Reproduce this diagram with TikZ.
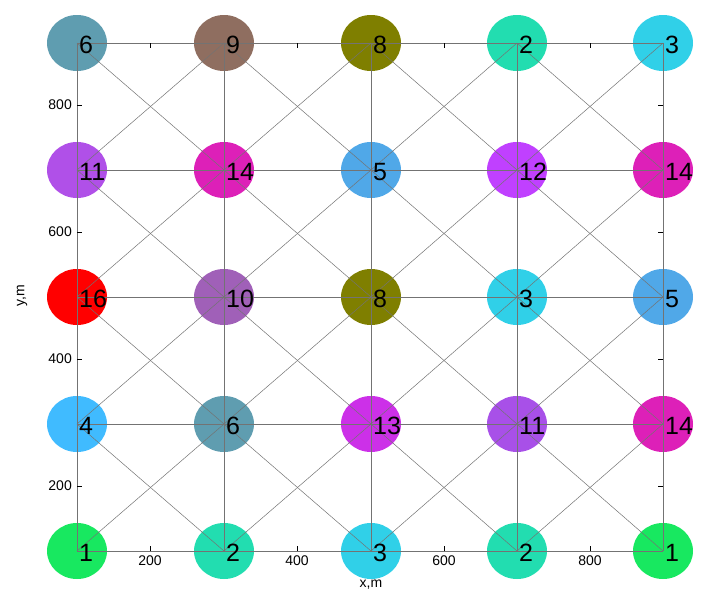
\documentclass[tikz,border=0pt]{standalone}
\usepackage{fontspec}
\setmainfont{Liberation Sans}
\usetikzlibrary{shapes.geometric}
\definecolor{cA}{HTML}{5F9DB0}
\definecolor{cB}{HTML}{8F6E60}
\definecolor{cC}{HTML}{7F7F00}
\definecolor{cD}{HTML}{22DDB0}
\definecolor{cE}{HTML}{30D0E8}
\definecolor{cF}{HTML}{B050E8}
\definecolor{cG}{HTML}{DD20B8}
\definecolor{cH}{HTML}{50A8E8}
\definecolor{cI}{HTML}{C040FF}
\definecolor{cJ}{HTML}{FF0000}
\definecolor{cK}{HTML}{A060B8}
\definecolor{cL}{HTML}{40BBFF}
\definecolor{cM}{HTML}{CC30E8}
\definecolor{cN}{HTML}{A850E8}
\definecolor{cO}{HTML}{18E860}
\tikzset{
  dot/.style={ellipse,minimum width=60pt,minimum height=56pt,inner sep=0pt,fill=#1,draw=none},
  edge/.style={draw=black!55,line width=0.5pt},
  num/.style={anchor=base west,font=\fontsize{25}{25}\selectfont,inner sep=0pt},
  tick/.style={font=\fontsize{14}{14}\selectfont,inner sep=0pt},
  tk/.style={line width=0.6pt}
}
\begin{document}
\begin{tikzpicture}[x=1pt,y=-1pt]
\useasboundingbox (0,0) rectangle (713,611);
% hidden y tick labels
\foreach \v/\yy in {900/43,700/170,500/297,300/424,100/551}
  \node[tick,anchor=east] (yl\v) at (72,\yy) {\v};
\foreach \v/\yy in {800/105,600/232,400/359,200/486}
  \node[tick,anchor=east] (yl\v) at (72,\yy) {\v};
\foreach \v/\xx in {200/150,400/297,600/444,800/590}
  \node[tick,anchor=north] (xl\v) at (\xx,556) {\v};
\node[tick] (xlab) at (371,585) {x,m};
\node[tick,rotate=90] (ylab) at (22,296) {y,m};
% circles
\def\cols{77,224,371,517,663}
\foreach \r/\yy/\cs/\ns in {
 1/43/{cA,cB,cC,cD,cE}/{6,9,8,2,3},
 2/170/{cF,cG,cH,cI,cG}/{11,14,5,12,14},
 3/297/{cJ,cK,cC,cE,cH}/{16,10,8,3,5},
 4/424/{cL,cA,cM,cN,cG}/{4,6,13,11,14},
 5/551/{cO,cD,cE,cD,cO}/{1,2,3,2,1}}{
  \foreach \xx [count=\c] in \cols {
    \pgfmathsetmacro{\dummy}{0}
    \foreach \cc [count=\k] in \cs {\ifnum\k=\c\relax\global\let\curcol\cc\fi}
    \node[dot=\curcol] (n\r\c) at (\xx,\yy) {};
  }
}
% edges
\foreach \r in {1,...,5}{\foreach \c [evaluate=\c as \cn using int(\c+1)] in {1,...,4}{
  \draw[edge] (n\r\c.center) -- (n\r\cn.center);}}
\foreach \r [evaluate=\r as \rn using int(\r+1)] in {1,...,4}{\foreach \c in {1,...,5}{
  \draw[edge] (n\r\c.center) -- (n\rn\c.center);}}
\foreach \r [evaluate=\r as \rn using int(\r+1)] in {1,...,4}{\foreach \c [evaluate=\c as \cn using int(\c+1)] in {1,...,4}{
  \draw[edge] (n\r\c.center) -- (n\rn\cn.center);
  \draw[edge] (n\r\cn.center) -- (n\rn\c.center);}}
% ticks
\foreach \xx in {150,297,444,590}{
  \draw[tk] (\xx,43) -- (\xx,48); \draw[tk] (\xx,551) -- (\xx,546);}
\foreach \yy in {105,232,359,486}{
  \draw[tk] (77,\yy) -- (82,\yy); \draw[tk] (663,\yy) -- (658,\yy);}
% numbers
\foreach \r/\ns in {1/{6,9,8,2,3},2/{11,14,5,12,14},3/{16,10,8,3,5},4/{4,6,13,11,14},5/{1,2,3,2,1}}{
  \foreach \t [count=\c] in \ns {
    \node[num] (t\r\c) at ([xshift=2pt,yshift=-10pt]n\r\c.center) {\t};
  }
}
\end{tikzpicture}
\end{document}
